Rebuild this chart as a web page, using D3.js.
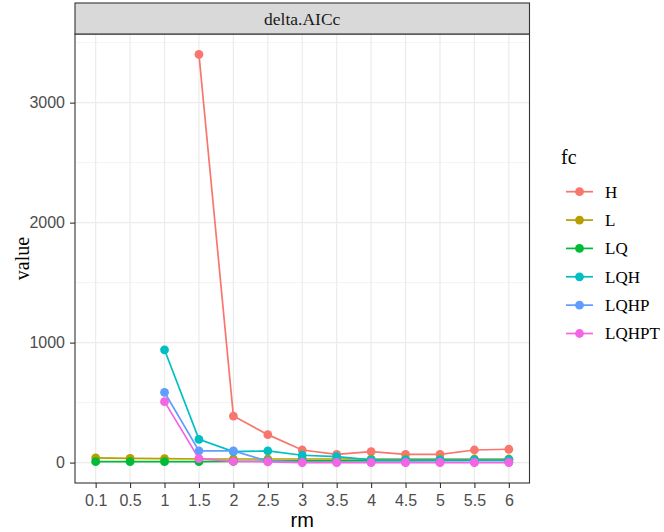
<!DOCTYPE html>
<html>
<head>
<meta charset="utf-8">
<script src="https://cdn.jsdelivr.net/npm/d3@7"></script>
<style>
  body { margin: 0; background: #fff; }
  svg { display: block; }
</style>
</head>
<body>
<div class="chart-wrapper"></div>
<script>
// data
const rmLevels = ["0.1", "0.5", "1", "1.5", "2", "2.5", "3", "3.5", "4", "4.5", "5", "5.5", "6"];
const fcLevels = ["H", "L", "LQ", "LQH", "LQHP", "LQHPT"];
const fcColors = ["#F8766D", "#B79F00", "#00BA38", "#00BFC4", "#619CFF", "#F564E3"];

// null = no model at that rm
const valuesH     = [null, null, null, 3402, 388, 233, 105, 69, 91, 69, 69, 105, 111];
const valuesL     = [40, 35, 33, 30, 30, 30, 30, 30, 30, 30, 30, 30, 30];
const valuesLQ    = [8, 8, 8, 8, 10, 12, 14, 14, 16, 16, 18, 20, 22];
const valuesLQH   = [null, null, 940, 194, 91, 97, 61, 50, 22, 22, 22, 22, 22];
const valuesLQHP  = [null, null, 586, 97, 97, 12, 3, 3, 3, 3, 3, 3, 3];
const valuesLQHPT = [null, null, 508, 33, 10, 6, 0, 0, 0, 0, 0, 0, 0];

const yTicks = [0, 1000, 2000, 3000];
const yMinor = [500, 1500, 2500, 3500];

const seriesValues = [valuesH, valuesL, valuesLQ, valuesLQH, valuesLQHP, valuesLQHPT];
const series = fcLevels.map((fc, i) => ({
  fc,
  color: fcColors[i],
  points: rmLevels.map((rm, j) => ({ rm, value: seriesValues[i][j] }))
    .filter(p => p.value !== null)
}));

const width = 664, height = 532;
const panel = { left: 75, right: 529.5, top: 34, bottom: 483 };
const stripTop = 3;

const svg = d3.select(".chart-wrapper")
  .append("svg")
  .attr("width", width)
  .attr("height", height)
  .style("background", "#fff");

// ggplot style discrete scale with 0.6 expansion
const x = d3.scalePoint()
  .domain(rmLevels)
  .range([panel.left, panel.right])
  .padding(0.6);

const allVals = series.flatMap(s => s.points.map(p => p.value));
const yMin = d3.min(allVals), yMax = d3.max(allVals);
const yPad = (yMax - yMin) * 0.05;
const y = d3.scaleLinear()
  .domain([yMin - yPad, yMax + yPad])
  .range([panel.bottom, panel.top]);

// panel background + grid
const grid = svg.append("g").attr("class", "grid");
grid.append("rect")
  .attr("x", panel.left).attr("y", panel.top)
  .attr("width", panel.right - panel.left)
  .attr("height", panel.bottom - panel.top)
  .attr("fill", "#fff");

grid.selectAll(".minor-y")
  .data(yMinor.filter(v => y(v) > panel.top))
  .enter().append("line")
  .attr("x1", panel.left).attr("x2", panel.right)
  .attr("y1", d => y(d)).attr("y2", d => y(d))
  .attr("stroke", "#EBEBEB").attr("stroke-width", 0.6);

grid.selectAll(".major-y")
  .data(yTicks)
  .enter().append("line")
  .attr("x1", panel.left).attr("x2", panel.right)
  .attr("y1", d => y(d)).attr("y2", d => y(d))
  .attr("stroke", "#EBEBEB").attr("stroke-width", 1.2);

grid.selectAll(".major-x")
  .data(rmLevels)
  .enter().append("line")
  .attr("x1", d => x(d)).attr("x2", d => x(d))
  .attr("y1", panel.top).attr("y2", panel.bottom)
  .attr("stroke", "#EBEBEB").attr("stroke-width", 1.2);

// lines
const line = d3.line()
  .x(d => x(d.rm))
  .y(d => y(d.value));

const plot = svg.append("g").attr("class", "plot");
plot.selectAll(".series-line")
  .data(series)
  .enter().append("path")
  .attr("class", "series-line")
  .attr("d", d => line(d.points))
  .attr("fill", "none")
  .attr("stroke", d => d.color)
  .attr("stroke-width", 1.7);

// points on top of all lines
series.forEach(s => {
  plot.selectAll(null)
    .data(s.points)
    .enter().append("circle")
    .attr("cx", d => x(d.rm))
    .attr("cy", d => y(d.value))
    .attr("r", 4.4)
    .attr("fill", s.color);
});

// panel border
svg.append("rect")
  .attr("x", panel.left).attr("y", panel.top)
  .attr("width", panel.right - panel.left)
  .attr("height", panel.bottom - panel.top)
  .attr("fill", "none")
  .attr("stroke", "#333")
  .attr("stroke-width", 1.1);

// facet strip
svg.append("rect")
  .attr("x", panel.left).attr("y", stripTop)
  .attr("width", panel.right - panel.left)
  .attr("height", panel.top - stripTop)
  .attr("fill", "#D9D9D9")
  .attr("stroke", "#333")
  .attr("stroke-width", 1.1);

svg.append("text")
  .attr("x", (panel.left + panel.right) / 2)
  .attr("y", (stripTop + panel.top) / 2)
  .attr("dy", "0.35em")
  .attr("text-anchor", "middle")
  .attr("font-family", "Liberation Serif, serif")
  .attr("font-size", 17.5)
  .attr("fill", "#1A1A1A")
  .text("delta.AICc");

// axes
const xAxis = svg.append("g")
  .attr("transform", `translate(0,${panel.bottom})`)
  .call(d3.axisBottom(x).tickSize(5).tickPadding(7));
const yAxis = svg.append("g")
  .attr("transform", `translate(${panel.left},0)`)
  .call(d3.axisLeft(y).tickValues(yTicks).tickFormat(d3.format("d")).tickSize(5).tickPadding(5));

[xAxis, yAxis].forEach(ax => {
  ax.select(".domain").remove();
  ax.selectAll(".tick line").attr("stroke", "#333").attr("stroke-width", 1.1);
  ax.selectAll(".tick text")
    .attr("fill", "#4D4D4D")
    .attr("font-family", "Liberation Sans, Arial, sans-serif")
    .attr("font-size", 16);
});

// axis titles
svg.append("text")
  .attr("x", (panel.left + panel.right) / 2)
  .attr("y", 527)
  .attr("text-anchor", "middle")
  .attr("font-family", "Liberation Sans, Arial, sans-serif")
  .attr("font-size", 20)
  .attr("fill", "#000")
  .text("rm");

svg.append("text")
  .attr("transform", `translate(22,${(panel.top + panel.bottom) / 2}) rotate(-90)`)
  .attr("text-anchor", "middle")
  .attr("dy", "0.35em")
  .attr("font-family", "Liberation Serif, serif")
  .attr("font-size", 20)
  .attr("fill", "#000")
  .text("value");

// legend
const legend = svg.append("g").attr("class", "legend");
legend.append("text")
  .attr("x", 561)
  .attr("y", 157)
  .attr("dy", "0.35em")
  .attr("font-family", "Liberation Serif, serif")
  .attr("font-size", 20)
  .attr("fill", "#000")
  .text("fc");

const keyY = d3.scalePoint()
  .domain(fcLevels)
  .range([191.7, 333.5]);

const keys = legend.selectAll(".key")
  .data(series)
  .enter().append("g")
  .attr("transform", d => `translate(0,${keyY(d.fc)})`);

keys.append("line")
  .attr("x1", 566).attr("x2", 593)
  .attr("stroke", d => d.color)
  .attr("stroke-width", 1.7);
keys.append("circle")
  .attr("cx", 579.5).attr("r", 4.4)
  .attr("fill", d => d.color);
keys.append("text")
  .attr("x", 605)
  .attr("dy", "0.35em")
  .attr("font-family", "Liberation Serif, serif")
  .attr("font-size", 17)
  .attr("fill", "#000")
  .text(d => d.fc);
</script>
</body>
</html>
